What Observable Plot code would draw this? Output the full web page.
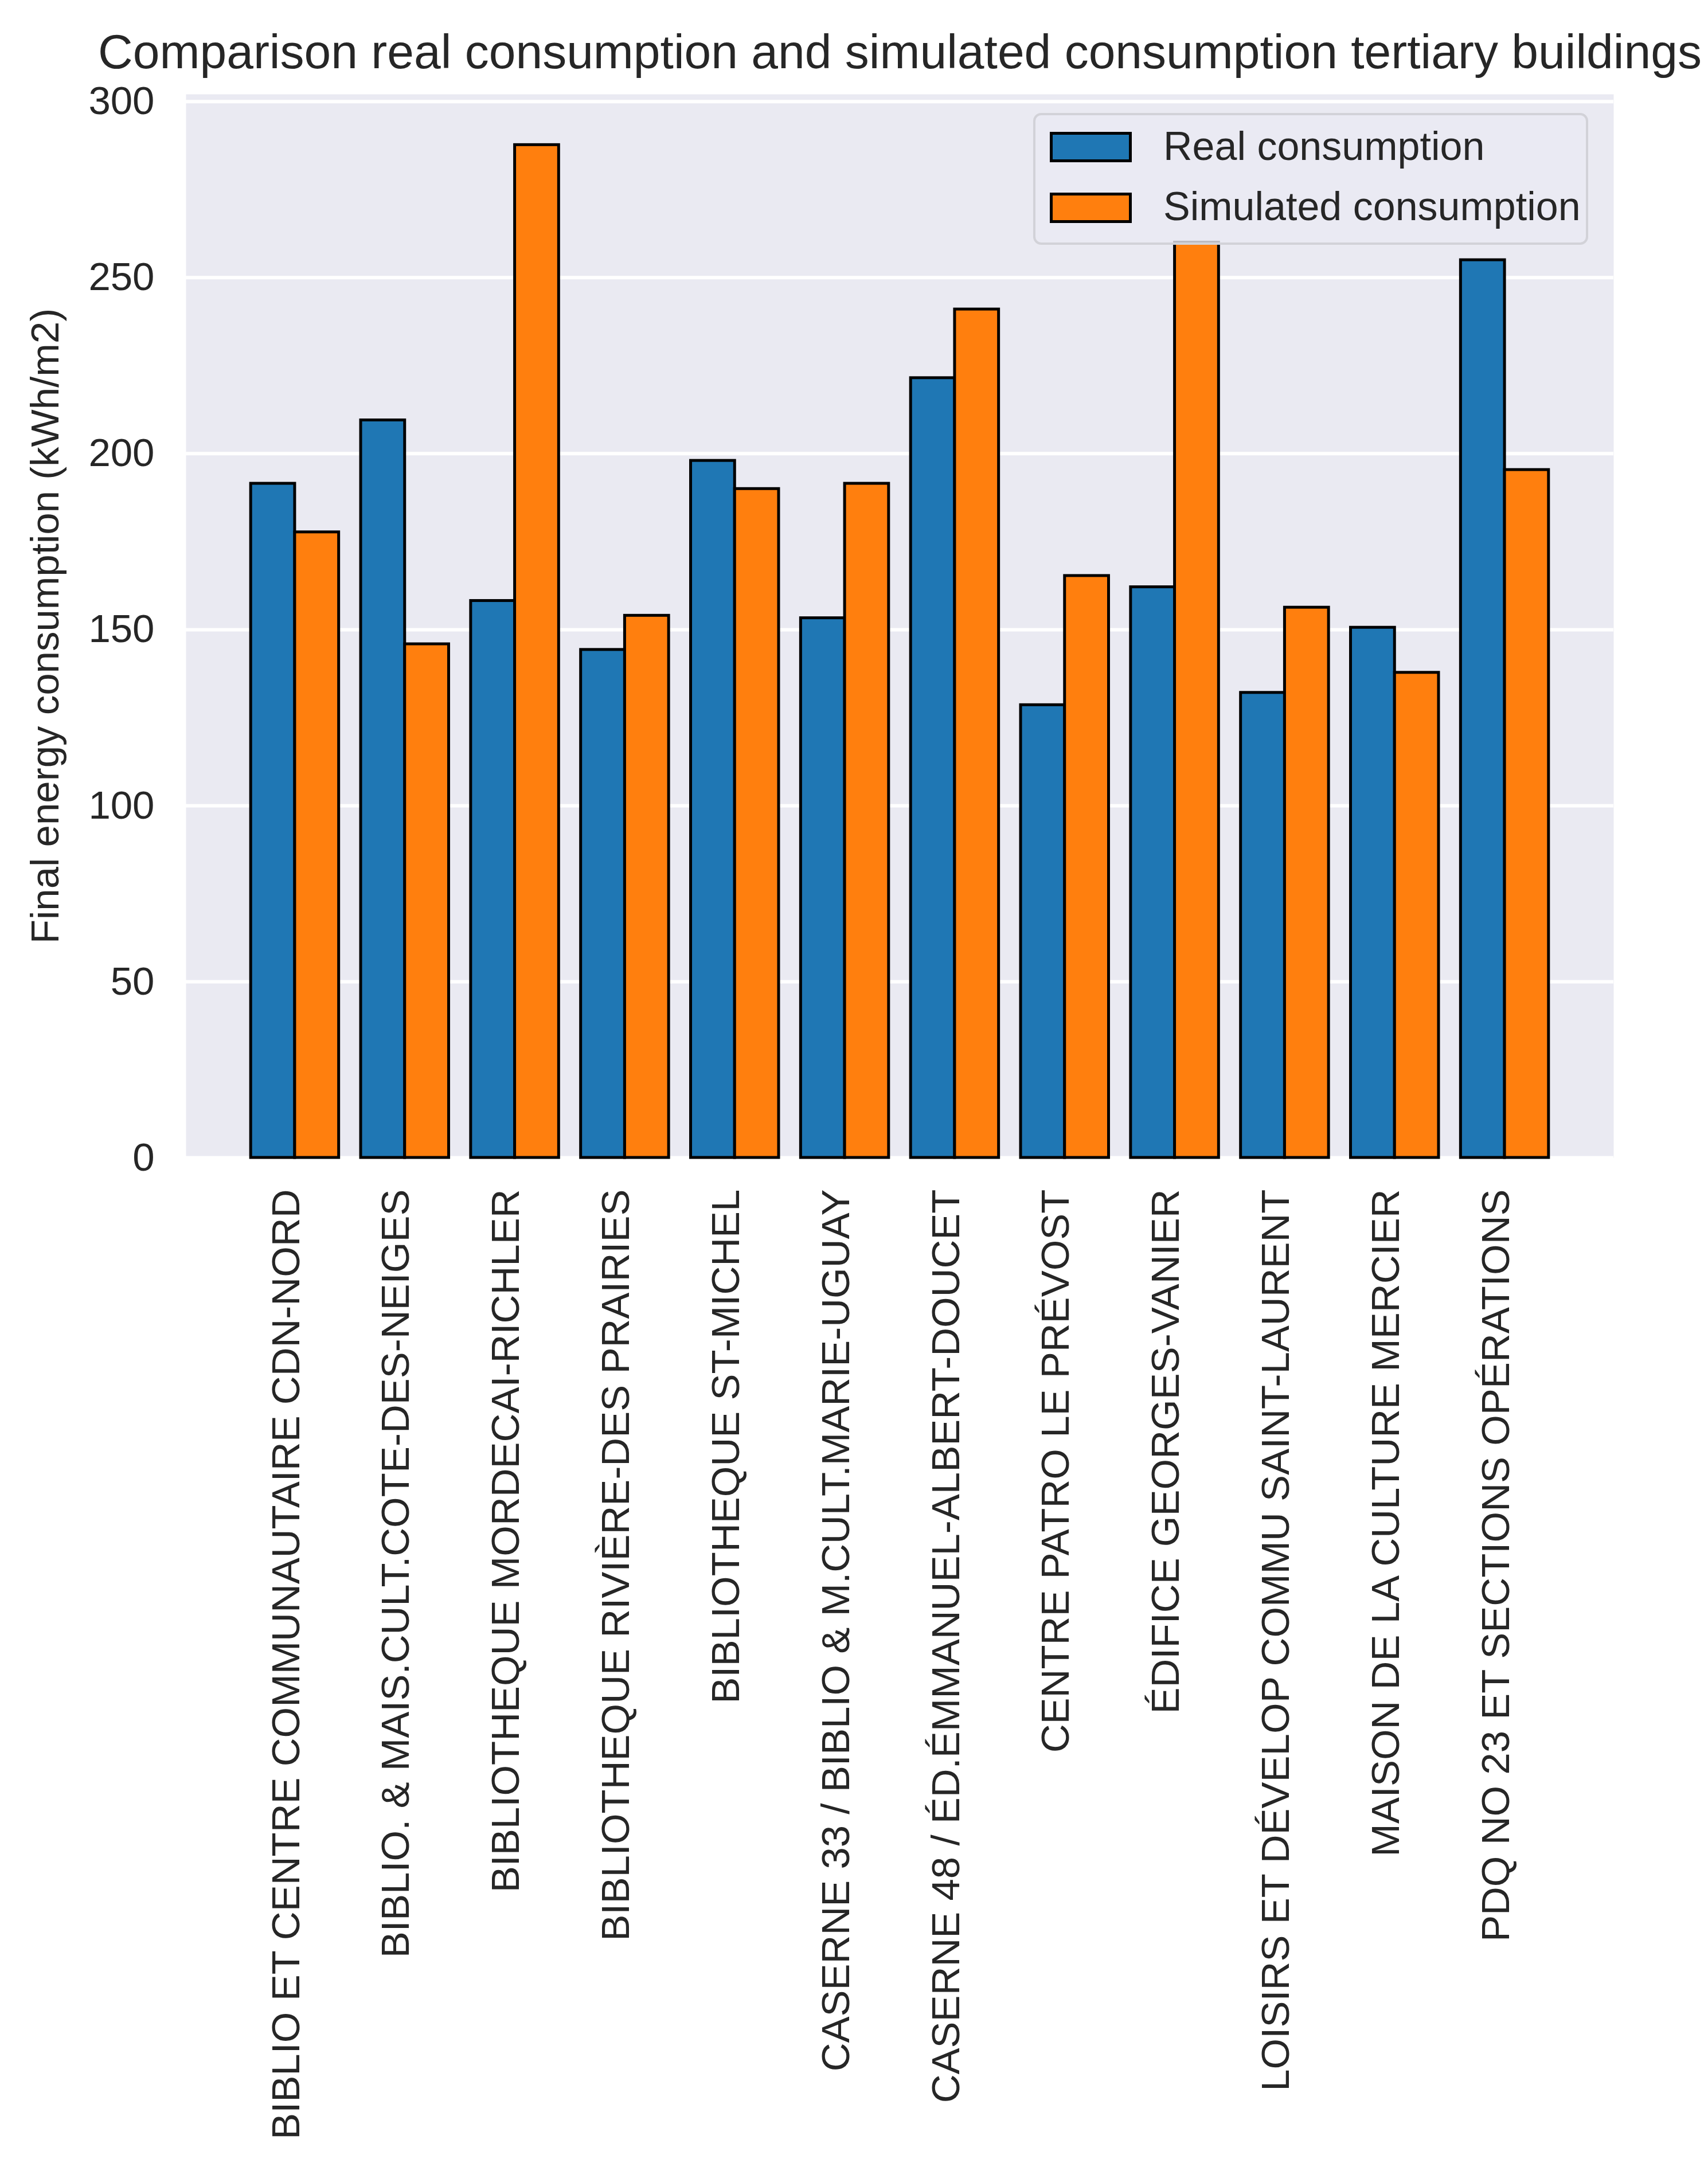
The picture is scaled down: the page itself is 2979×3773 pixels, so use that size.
<!DOCTYPE html>
<html>
<head>
<meta charset="utf-8">
<script src="https://cdn.jsdelivr.net/npm/d3@7"></script>
<script src="https://cdn.jsdelivr.net/npm/@observablehq/plot@0.6"></script>
<style>
  body { margin: 0; background: #fff; font-family: "Liberation Sans", Arial, sans-serif; color: #262626; }
  #wrap { position: relative; width: 2979px; height: 3773px; }
  #title { box-sizing: border-box; width: 2979px; height: 110px; padding: 48px 0 0 160px; font-size: 84px; line-height: 1; text-align: center; white-space: nowrap; }
  #legend { position: absolute; left: 1802px; top: 197px; width: 968px; height: 230px; box-sizing: border-box;
            background: rgba(234, 234, 242, 0.8); border: 4px solid #d2d2d8; border-radius: 14px; }
  .key { position: absolute; left: 25px; width: 143px; height: 53px; box-sizing: border-box; border: 5px solid #000; }
  .lab { position: absolute; left: 223px; font-size: 70px; line-height: 1; white-space: nowrap; }
  #chart svg { overflow: visible; }
</style>
</head>
<body>
<div id="wrap">
  <div id="title">Comparison real consumption and simulated consumption tertiary buildings</div>
  <div id="chart"></div>
  <div id="legend"></div>
</div>
<script>
const buildings = [
  "BIBLIO ET CENTRE COMMUNAUTAIRE CDN-NORD",
  "BIBLIO. & MAIS.CULT.COTE-DES-NEIGES",
  "BIBLIOTHEQUE MORDECAI-RICHLER",
  "BIBLIOTHEQUE RIVIÈRE-DES PRAIRIES",
  "BIBLIOTHEQUE ST-MICHEL",
  "CASERNE 33 / BIBLIO & M.CULT.MARIE-UGUAY",
  "CASERNE 48 / ÉD.ÉMMANUEL-ALBERT-DOUCET",
  "CENTRE PATRO LE PRÉVOST",
  "ÉDIFICE GEORGES-VANIER",
  "LOISIRS ET DÉVELOP COMMU SAINT-LAURENT",
  "MAISON DE LA CULTURE MERCIER",
  "PDQ NO 23 ET SECTIONS OPÉRATIONS"
];
const real      = [191.5, 209.5, 158.2, 144.3, 198.0, 153.3, 221.5, 128.6, 162.1, 132.1, 150.6, 255.0];
const simulated = [177.7, 145.9, 287.7, 154.0, 190.0, 191.5, 241.0, 165.3, 260.0, 156.3, 137.8, 195.4];
const series = ["Real consumption", "Simulated consumption"];
const colors = ["#1f77b4", "#ff7f0e"];
const yTicks = [0, 50, 100, 150, 200, 250, 300];

const barWidth = 0.4;
const rows = buildings.flatMap((b, i) => [
  {i, off: -barWidth, value: real[i], series: series[0]},
  {i, off: 0, value: simulated[i], series: series[1]}
]);

const maxVal = d3.max([...real, ...simulated]);

let chart = Plot.plot({
  width: 2979,
  height: 3663,
  marginTop: 54,
  marginLeft: 324,
  marginRight: 165,
  marginBottom: 1754,
  style: {fontFamily: "Liberation Sans, Arial, sans-serif", fontSize: "69px", color: "#262626", background: "white"},
  x: {domain: [-0.99, 11.99]},
  y: {domain: [0, maxVal * 1.05]},
  color: {domain: series, range: colors},
  marks: [
    Plot.frame({fill: "#eaeaf2", stroke: "none"}),
    Plot.gridY(yTicks, {stroke: "white", strokeOpacity: 1, strokeWidth: 6}),
    Plot.rectY(rows, {
      x1: d => d.i + d.off,
      x2: d => d.i + d.off + barWidth,
      y1: 0,
      y2: "value",
      fill: "series",
      stroke: "black",
      strokeWidth: 5
    }),
    Plot.axisY(yTicks, {
      tickSize: 0, tickPadding: 55,
      label: "Final energy consumption (kWh/m2)",
      labelAnchor: "center", labelOffset: 272, labelArrow: "none"
    }),
    Plot.axisX(d3.range(buildings.length), {
      tickSize: 0, tickPadding: 55, tickRotate: -90, dx: -15,
      tickFormat: i => buildings[i], label: null
    })
  ]
});

d3.select("#chart").append(() => chart);

// legend, drawn over the plot like matplotlib's
const legend = d3.select("#legend");
series.forEach((s, k) => {
  legend.append("div").attr("class", "key")
    .style("top", (29 + k * 106) + "px")
    .style("background", colors[k]);
  legend.append("div").attr("class", "lab")
    .style("top", (19 + k * 105) + "px")
    .text(s);
});
</script>
</body>
</html>
